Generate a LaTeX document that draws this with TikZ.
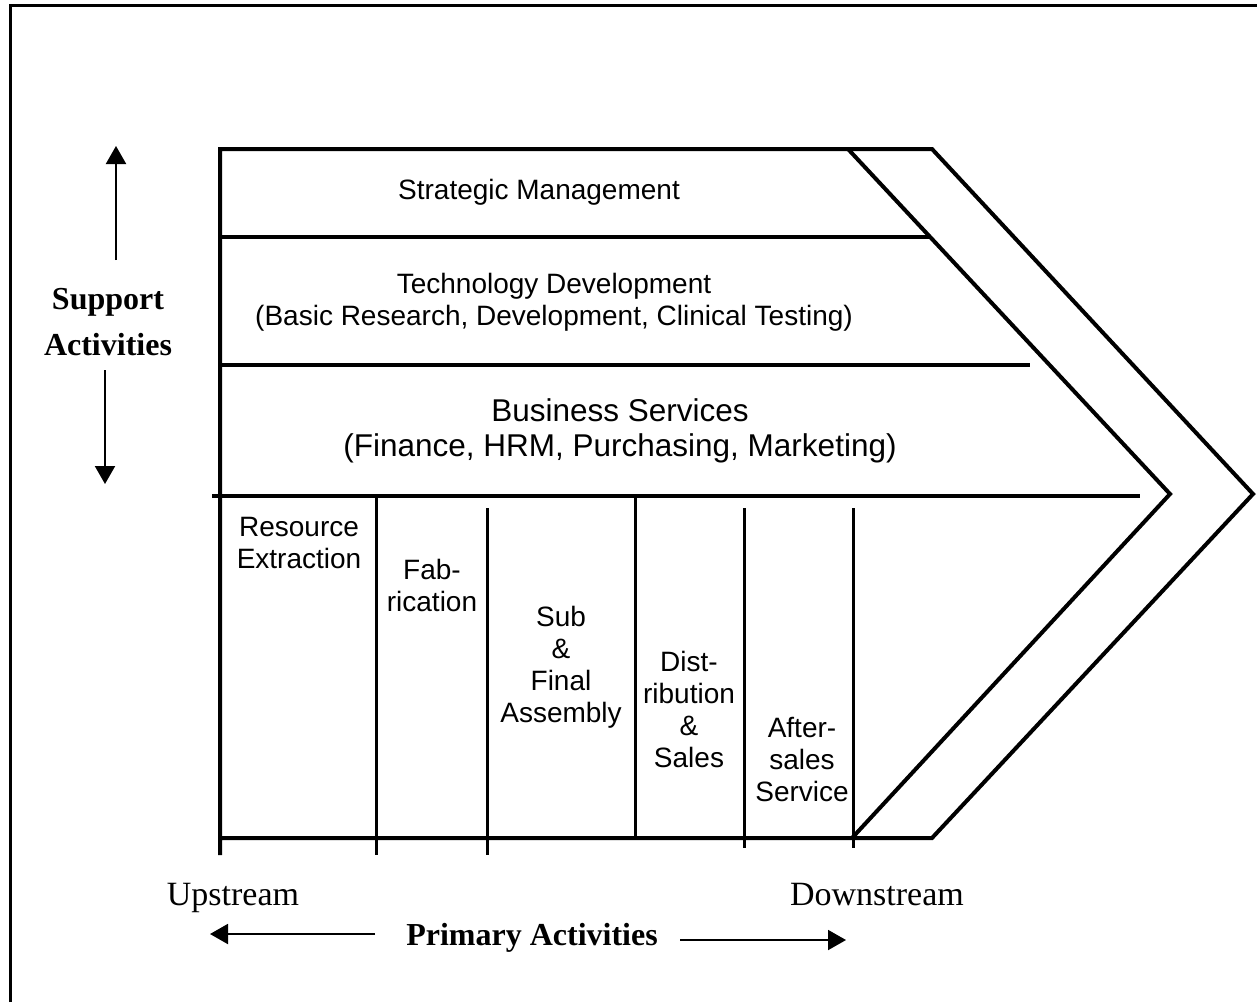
\documentclass[tikz,border=0pt]{standalone}
\usepackage{fontspec}
\setmainfont{Liberation Serif}
\setsansfont{Liberation Sans}
\usetikzlibrary{arrows.meta}

\begin{document}
\begin{tikzpicture}[x=1pt,y=-1pt,
  heavy/.style={line width=4pt},
  divider/.style={line width=3pt},
  lbl/.style={font=\sffamily\fontsize{28}{32}\selectfont, align=center, inner sep=0pt},
  biglbl/.style={font=\sffamily\fontsize{31.5}{35}\selectfont, align=center, inner sep=0pt},
  side/.style={font=\rmfamily\fontsize{34}{46}\selectfont, align=center, inner sep=0pt},
  sidebold/.style={font=\rmfamily\bfseries\fontsize{32}{46}\selectfont, align=center, inner sep=0pt},
  flow/.style={line width=2pt, -{Triangle[length=18pt,width=20pt]}},
]
\useasboundingbox (0,0) rectangle (1257,1002);

% frame
\draw[line width=3pt] (10,1002) -- (10,5) -- (1257,5);

% value chain outline
\draw[heavy, line join=miter] (220,855) -- (220,149) -- (932,149) -- (1253,494) -- (932,838) -- (220,838);
\draw[heavy] (848,149) -- (1170,494) -- (852,838);

% support activity rows
\draw[heavy] (220,237) -- (930,237);
\draw[heavy] (220,365) -- (1030,365);
\draw[heavy] (212,496) -- (1140,496);

% primary activity columns
\draw[divider] (376,496) -- (376,855);
\draw[divider] (487,508) -- (487,855);
\draw[divider] (635,496) -- (635,838);
\draw[divider] (744,508) -- (744,848);
\draw[divider] (853,508) -- (853,848);

% support activity labels
\node[lbl] (sm) at (539,192) {Strategic Management};
\node[lbl] (td) at (554,302) {Technology Development\\(Basic Research, Development, Clinical Testing)};
\node[biglbl] (bs) at (620,431) {Business Services\\(Finance, HRM, Purchasing, Marketing)};

% primary activity labels
\node[lbl] (re) at (299,543) {Resource\\Extraction};
\node[lbl] (fab) at (432,585) {Fab-\\rication};
\node[lbl] (sfa) at (561,667) {Sub\\\&\\Final\\Assembly};
\node[lbl] (dist) at (689,709) {Dist-\\ribution\\\&\\Sales};
\node[lbl] (after) at (802,759) {After-\\sales\\Service};

% axis captions
\node[sidebold] (support) at (108,322) {Support\\Activities};
\node[side, anchor=base] (up) at (233,905) {Upstream};
\node[side, anchor=base] (down) at (877,905) {Downstream};
\node[sidebold] (primary) at (532,938) {Primary Activities};

% direction arrows
\coordinate (upA) at (116,260);
\coordinate (upB) at (116,146);
\coordinate (dnA) at (105,370);
\coordinate (dnB) at (105,484);
\coordinate (lfA) at (375,934);
\coordinate (lfB) at (210,934);
\coordinate (rtA) at (680,940);
\coordinate (rtB) at (846,940);
\draw[flow] (upA) -- (upB);
\draw[flow] (dnA) -- (dnB);
\draw[flow] (lfA) -- (lfB);
\draw[flow] (rtA) -- (rtB);
\end{tikzpicture}
\end{document}
